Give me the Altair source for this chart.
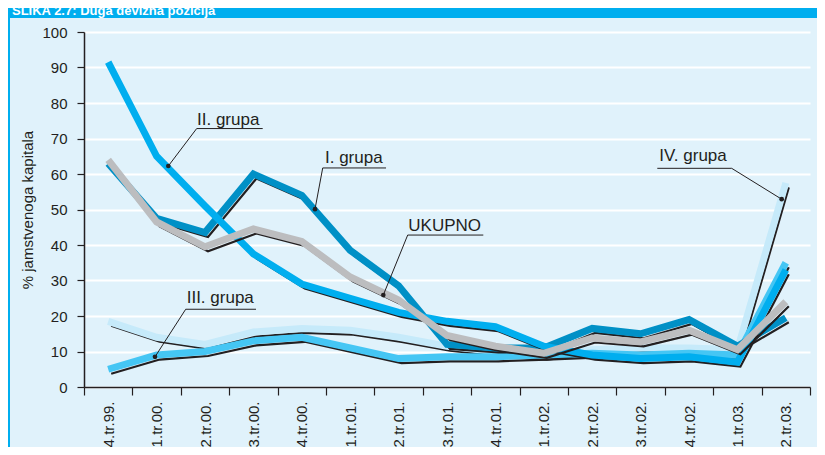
import altair as alt
import pandas as pd

# ---------------- data ----------------
categories = ["4.tr.99.", "1.tr.00.", "2.tr.00.", "3.tr.00.", "4.tr.00.",
              "1.tr.01.", "2.tr.01.", "3.tr.01.", "4.tr.01.", "1.tr.02.",
              "2.tr.02.", "3.tr.02.", "4.tr.02.", "1.tr.03.", "2.tr.03."]

grupa_1 = [63, 47.5, 43.5, 60, 54, 38.5, 28.5, 12, 11, 11, 16.5, 15, 19, 11.5, 19.5]
grupa_2 = [91.5, 65, 51, 37.5, 29, 25, 21, 18.5, 17, 11.5, 9, 8, 8.5, 7, 33]
grupa_3 = [5, 9, 10, 13, 14, 11, 8, 8.5, 8.5, 9, 9.5, 9, 9.5, 9, 35]
grupa_4 = [18.5, 14, 12, 15.5, 16.5, 16, 14, 11.5, 10, 9, 10.5, 11, 11, 10.5, 57.5]
ukupno = [64, 46.5, 39.5, 44.5, 41, 31, 24.5, 14.5, 11.5, 9.5, 13.8, 12.7, 16, 10.5, 24]

# drawing order: back to front
series_names = ["IV. grupa", "III. grupa", "I. grupa", "II. grupa", "UKUPNO"]
series_values = [grupa_4, grupa_3, grupa_1, grupa_2, ukupno]
series_colors = ["#C6EAFA", "#45C6F4", "#0090C6", "#00AEEF", "#BCBDBF"]

# annotation labels (position in category-index units / value units)
ann_text = ["II. grupa", "I. grupa", "UKUPNO", "III. grupa", "IV. grupa"]
ann_tx = [2.335, 4.979, 6.70, 2.122, 11.887]
ann_ty = [73.8, 63.2, 44.0, 23.6, 63.7]
ann_ux1 = [2.328, 4.932, 6.688, 2.101, 11.845]
ann_ux2 = [3.692, 6.240, 8.25, 3.554, 13.382]
ann_uy = [72.8, 61.7, 42.8, 21.9, 61.6]
ann_lx = [2.328, 4.932, 6.688, 2.101, 13.382]
ann_dx = [1.742, 4.773, 6.184, 1.467, 14.415]
ann_dy = [62.25, 50.1, 25.9, 8.5, 52.9]

title_text = "SLIKA 2.7: Duga devizna pozicija"
y_title = "% jamstvenoga kapitala"

# ---------------- build ----------------
rows = []
for name, vals in zip(series_names, series_values):
    for c, v in zip(categories, vals):
        rows.append({"serija": name, "kvartal": c, "vrijednost": v})
df = pd.DataFrame(rows)

ann_df = pd.DataFrame({
    "t": ann_text, "tx": ann_tx, "ty": ann_ty,
    "ux1": ann_ux1, "ux2": ann_ux2, "uy": ann_uy,
    "lx": ann_lx, "dx": ann_dx, "dy": ann_dy,
})

FONT = "Liberation Sans"
INK = "#231F20"
W, H = 726, 355
PAD = {"left": 76, "top": 24, "right": 7, "bottom": 60}


def y_scale():
    return alt.Scale(domain=[0, 100], nice=False, zero=True)


x_enc = alt.X(
    "kvartal:N",
    bandPosition=0.5,
    scale=alt.Scale(type="band", domain=categories, paddingInner=0, paddingOuter=0),
    axis=alt.Axis(
        title=None, tickBand="extent", labelAngle=-90, labelAlign="right",
        labelBaseline="middle", labelPadding=6, tickSize=8, tickWidth=1.2,
        tickColor=INK, domainColor=INK, domainWidth=1.5, grid=False,
        labelFont=FONT, labelFontSize=15, labelColor=INK,
    ),
)
y_enc = alt.Y(
    "vrijednost:Q",
    scale=y_scale(),
    axis=alt.Axis(
        title=y_title, values=list(range(0, 101, 10)), grid=True,
        gridColor="white", gridWidth=2, gridOpacity=1, domainColor=INK, domainWidth=1.5,
        tickColor=INK, tickSize=7, tickWidth=1.2, labelPadding=10,
        labelFont=FONT, labelFontSize=15, labelColor=INK,
        titleFont=FONT, titleFontSize=15, titleFontWeight="normal",
        titleColor=INK, titlePadding=6,
    ),
)

series_layers = []
for name, color in zip(series_names, series_colors):
    base = alt.Chart(df).transform_filter(alt.datum.serija == name)
    shadow = base.mark_line(color=INK, strokeWidth=2.2, xOffset=3, yOffset=4.5).encode(x=x_enc, y=y_enc)
    band = base.mark_line(color=color, strokeWidth=7).encode(x=x_enc, y=y_enc)
    series_layers += [shadow, band]

series_chart = alt.layer(*series_layers)

xa = alt.Scale(domain=[0, 15], nice=False, zero=False)
ann_base = alt.Chart(ann_df)
ann_text_layer = ann_base.mark_text(
    align="left", baseline="alphabetic", font=FONT, fontSize=17, color=INK
).encode(
    x=alt.X("tx:Q", scale=xa, axis=None),
    y=alt.Y("ty:Q", scale=y_scale(), axis=None),
    text="t:N",
)
ann_under = ann_base.mark_rule(color=INK, strokeWidth=1).encode(
    x=alt.X("ux1:Q", scale=xa, axis=None),
    x2="ux2:Q",
    y=alt.Y("uy:Q", scale=y_scale(), axis=None),
)
ann_leader = ann_base.mark_rule(color=INK, strokeWidth=1).encode(
    x=alt.X("lx:Q", scale=xa, axis=None),
    y=alt.Y("uy:Q", scale=y_scale(), axis=None),
    x2="dx:Q",
    y2="dy:Q",
)
ann_dot = ann_base.mark_circle(color=INK, opacity=1, size=22).encode(
    x=alt.X("dx:Q", scale=xa, axis=None),
    y=alt.Y("dy:Q", scale=y_scale(), axis=None),
)
ann_chart = alt.layer(ann_leader, ann_under, ann_text_layer, ann_dot)

one = pd.DataFrame({"t": [title_text]})
title_bar = alt.Chart(one).mark_rect(color="#00AEEF").encode(
    x=alt.value(-PAD["left"]), x2=alt.value(W + PAD["right"]),
    y=alt.value(-PAD["top"]), y2=alt.value(-PAD["top"] + 10),
)
title_label = alt.Chart(one).mark_text(
    align="left", baseline="alphabetic", font=FONT, fontSize=13,
    fontWeight="bold", color="white",
).encode(text="t:N", x=alt.value(-PAD["left"] + 4), y=alt.value(-PAD["top"] + 6.5))
left_border = alt.Chart(one).mark_rule(color="#00AEEF", strokeWidth=2).encode(
    x=alt.value(-PAD["left"] + 1), y=alt.value(-PAD["top"]), y2=alt.value(H + PAD["bottom"]),
)

chart = alt.layer(
    series_chart, ann_chart, title_bar, title_label, left_border
).resolve_scale(x="independent", y="independent").properties(
    width=W, height=H, padding=PAD,
    autosize=alt.AutoSizeParams(type="none"),
    background="#E0F2FB",
).configure_view(stroke=None)

chart.save("out.html", embed_options={"renderer": "svg", "actions": False})
